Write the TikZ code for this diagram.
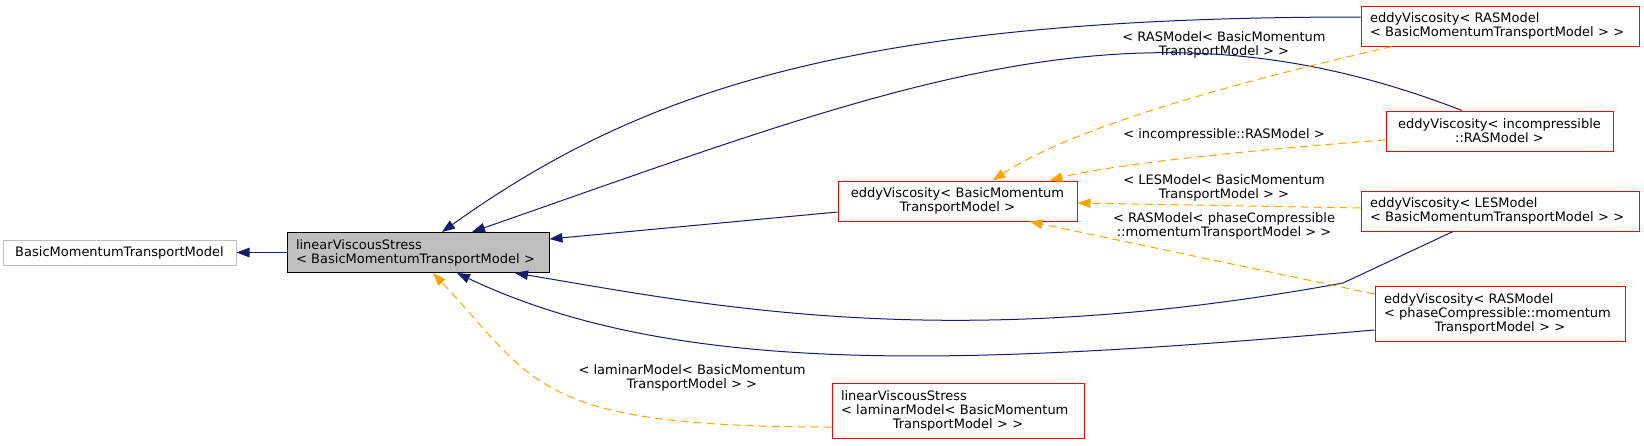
\documentclass[tikz,border=0pt]{standalone}
\usepackage{fontspec}
\setmainfont{DejaVu Sans}
\usetikzlibrary{arrows.meta, positioning}
\definecolor{navy}{HTML}{191970}
\definecolor{dorange}{HTML}{FFA500}
\definecolor{grey75}{HTML}{BFBFBF}
\newcommand{\midline}[1]{\hspace*{\fill}#1\hspace*{\fill}\null}

\begin{document}
\begin{tikzpicture}[x=1pt, y=-1pt, line width=1pt, >={Triangle[length=13pt,width=9.5pt]},
    every node/.style={font=\fontsize{13}{14}\selectfont},
    cls/.style={draw=red, fill=white, inner xsep=9pt, inner ysep=0pt, minimum height=40pt, align=left},
    base/.style={cls, draw=grey75, minimum height=25pt, align=center},
    cur/.style={cls, draw=black, fill=grey75},
    inh/.style={->, draw=navy},
    tmpl/.style={->, draw=dorange, dash pattern=on 8pt off 5pt},
    lbl/.style={align=center, inner sep=0pt}]
    \useasboundingbox (0,0) rectangle (1644,445);
    % classes
    \node[cur, text width=244pt] (lvs) at (418,252.5) {linearViscousStress\\< BasicMomentumTransportModel >};
    \node[base, text width=215pt, left=50pt of lvs] (basic) {BasicMomentumTransportModel};
    \node[cls, text width=221pt, align=center] (eb) at (957.5,201) {eddyViscosity< BasicMomentum\\TransportModel >};
    \node[cls, text width=260pt] (ras) at (1500,26) {eddyViscosity< RASModel\\< BasicMomentumTransportModel > >};
    \node[cls, text width=209pt, align=center] (inc) at (1499.5,131) {eddyViscosity< incompressible\\::RASModel >};
    \node[cls, text width=260pt] (les) at (1500,211) {eddyViscosity< LESModel\\< BasicMomentumTransportModel > >};
    \node[cls, text width=232pt, minimum height=55pt] (ph) at (1500,314) {eddyViscosity< RASModel\\< phaseCompressible::momentum\\\midline{TransportModel > >}};
    \node[cls, text width=234pt, minimum height=55pt] (lam) at (958,411) {linearViscousStress\\< laminarModel< BasicMomentum\\\midline{TransportModel > >}};
    % template labels
    \node[lbl] (lRas) at (1224,45) {< RASModel< BasicMomentum\\TransportModel > >};
    \node[lbl] (lInc) at (1224,135) {< incompressible::RASModel >};
    \node[lbl] (lLes) at (1224,188) {< LESModel< BasicMomentum\\TransportModel > >};
    \node[lbl] (lPh) at (1224,226) {< RASModel< phaseCompressible\\::momentumTransportModel > >};
    \node[lbl] (lLam) at (692,378) {< laminarModel< BasicMomentum\\TransportModel > >};
    % inheritance
    \draw[inh] (lvs) -- (basic);
    \draw[inh] ([yshift=9pt]ras.west) .. controls (861,17) and (645,87) .. ([xshift=24pt]lvs.north);
    \draw[inh] ([xshift=-37.5pt]inc.north) .. controls (1136,-16) and (897,84) .. ([xshift=54pt]lvs.north);
    \draw[inh] ([yshift=-11pt]eb.west) -- ([yshift=13.5pt]lvs.east);
    \draw[inh] ([xshift=-47pt]les.south) -- (1343,283) .. controls (950,355) and (712,306) .. ([xshift=97pt]lvs.south);
    \draw[inh] ([yshift=-16pt]ph.west) .. controls (978,364) and (682,380) .. ([xshift=39pt]lvs.south);
    % template instances
    \draw[tmpl] ([yshift=-16pt]lam.west) .. controls (532,427) and (536,382) .. ([xshift=15pt]lvs.south);
    \draw[tmpl] ([xshift=-108pt]ras.south) .. controls (1246,80) and (1077,125) .. ([xshift=35pt]eb.north);
    \draw[tmpl] ([yshift=-9pt]inc.west) .. controls (1300,146) and (1120,162) .. ([xshift=92pt]eb.north);
    \draw[tmpl] ([yshift=3pt]les.west) -- ([yshift=-2pt]eb.east);
    \draw[tmpl] ([yshift=20pt]ph.west) -- ([xshift=72pt]eb.south);
\end{tikzpicture}
\end{document}
